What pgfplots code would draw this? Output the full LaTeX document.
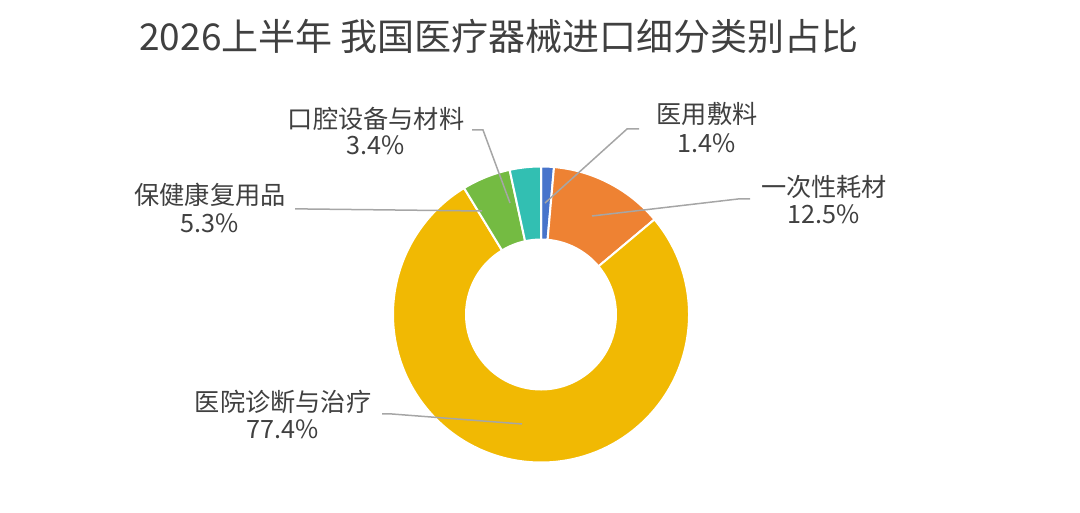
\documentclass[border=0pt]{standalone}
\usepackage{pgfplots}
\pgfplotsset{compat=1.18}
\usepackage{fontspec}
\setmainfont{Noto Sans CJK SC}
\definecolor{cblue}{HTML}{4874CB}
\definecolor{corange}{HTML}{EE8233}
\definecolor{cyellow}{HTML}{F1B903}
\definecolor{cgreen}{HTML}{74BB42}
\definecolor{cteal}{HTML}{32BFB2}
\definecolor{ctext}{HTML}{404040}
\definecolor{cline}{HTML}{A6A6A6}
% shares in percent
\def\vA{1.4}  % 医用敷料
\def\vB{12.5} % 一次性耗材
\def\vC{77.4} % 医院诊断与治疗
\def\vD{5.3}  % 保健康复用品
\def\vE{3.4}  % 口腔设备与材料
\newcommand\sector[3]{%
  \fill[#3,draw=white,line width=1bp,shift={(axis cs:541,198.5)}]
    (#1:74bp) arc[start angle=#1,end angle=#2,radius=74bp]
    -- (#2:37.5bp) arc[start angle=#2,end angle=#1,radius=37.5bp] -- cycle;}
\newcommand\lbl[5]{% x, name baseline(px from top), pct baseline, name, pct
  \node[anchor=base,inner sep=0pt,font=\fontsize{12.6bp}{14bp}\selectfont,text=ctext] at (axis cs:#1,{513-#2}) {#4};
  \node[anchor=base,inner sep=0pt,font=\fontsize{12.6bp}{14bp}\selectfont,text=ctext] at (axis cs:#1,{513-#3}) {#5};}
\begin{document}
\begin{tikzpicture}
\pgfmathsetmacro\aA{90}
\pgfmathsetmacro\aB{\aA-3.6*\vA}
\pgfmathsetmacro\aC{\aB-3.6*\vB}
\pgfmathsetmacro\aD{\aC-3.6*\vC}
\pgfmathsetmacro\aE{\aD-3.6*\vD}
\pgfmathsetmacro\aF{\aE-3.6*\vE}
\begin{axis}[x=0.5bp,y=0.5bp,xmin=0,xmax=1080,ymin=0,ymax=513,
  hide axis,clip=false]
\addplot[draw=none,forget plot] coordinates {(0,0) (1080,513)};
\path (axis cs:0,0) rectangle (axis cs:1080,513);
\sector{\aA}{\aB}{cblue}
\sector{\aB}{\aC}{corange}
\sector{\aC}{\aD}{cyellow}
\sector{\aD}{\aE}{cgreen}
\sector{\aE}{\aF}{cteal}
% leader lines
\draw[cline,line width=0.75bp] (axis cs:545,{513-203}) -- (axis cs:627,{513-129}) -- (axis cs:639,{513-129});
\draw[cline,line width=0.75bp] (axis cs:592,{513-216}) -- (axis cs:738,{513-199}) -- (axis cs:750,{513-199});
\draw[cline,line width=0.75bp] (axis cs:510,{513-203}) -- (axis cs:483,{513-130}) -- (axis cs:472,{513-130});
\draw[cline,line width=0.75bp] (axis cs:482,{513-211}) -- (axis cs:307,{513-209}) -- (axis cs:295,{513-209});
\draw[cline,line width=0.75bp] (axis cs:522,{513-424}) -- (axis cs:392,{513-414}) -- (axis cs:382,{513-414});
% labels
\lbl{707}{124}{153}{医用敷料}{\vA\%}
\lbl{824}{197}{224}{一次性耗材}{\vB\%}
\lbl{376}{129}{155}{口腔设备与材料}{\vE\%}
\lbl{210}{205}{233}{保健康复用品}{\vD\%}
\lbl{283}{412}{439}{医院诊断与治疗}{\vC\%}
% title
\node[anchor=base west,inner sep=0pt,font=\fontsize{18.5bp}{22bp}\selectfont,text=ctext]
  at (axis cs:139,{513-51}) {2026上半年 我国医疗器械进口细分类别占比};
\end{axis}
\end{tikzpicture}
\end{document}
